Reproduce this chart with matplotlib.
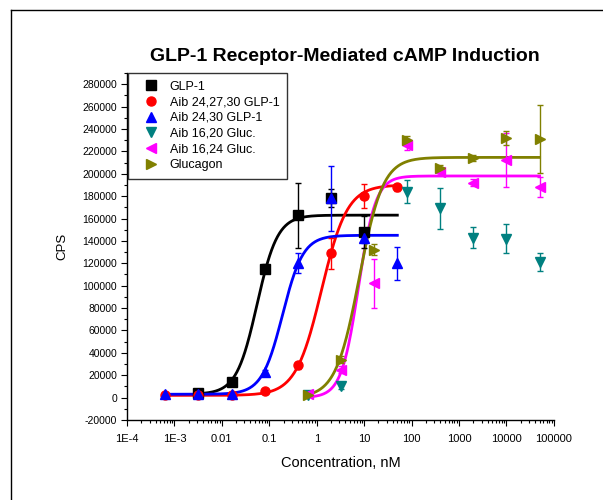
import matplotlib
matplotlib.use("Agg")
import matplotlib.pyplot as plt
import numpy as np
from matplotlib.lines import Line2D
from matplotlib.ticker import FixedLocator, NullFormatter

plt.rcParams['font.family'] = ['Liberation Sans', 'DejaVu Sans']

# concentrations, nM (5-fold dilution series)
conc_low = [0.00064, 0.0032, 0.016, 0.08, 0.4, 2, 10, 50]
conc_high = [0.64, 3.2, 16, 80, 400, 2000, 10000, 50000]

# GLP-1
glp1_x = [0.0032, 0.016, 0.08, 0.4, 2, 10]
glp1_y = [4000, 14000, 115000, 163000, 178000, 148000]
glp1_e = [1500, 2000, 4000, 29000, 8000, 14000]

# Aib 24,27,30 GLP-1
aib3_y = [2000, 2000, 2500, 6000, 29000, 129000, 180000, 188000]
aib3_e = [1000, 1000, 1000, 1500, 3000, 14000, 11000, 3000]

# Aib 24,30 GLP-1
aib2_y = [3000, 3000, 3000, 23000, 120000, 178000, 143000, 120000]
aib2_e = [1000, 1000, 1000, 2000, 9000, 29000, 5000, 15000]

# Aib 16,20 Gluc.
g1620_x = [0.64, 3.2, 80, 400, 2000, 10000, 50000]
g1620_y = [2000, 10000, 184000, 169000, 143000, 142000, 121000]
g1620_e = [1000, 2000, 10000, 18000, 9000, 13000, 8000]

# Aib 16,24 Gluc.
g1624_y = [3000, 25000, 102000, 226000, 202000, 192000, 212000, 188000]
g1624_e = [1000, 3000, 22000, 5000, 3000, 3000, 24000, 9000]

# Glucagon
gcg_y = [2000, 34000, 132000, 230000, 205000, 214000, 232000, 231000]
gcg_e = [1000, 3000, 5000, 4000, 3000, 3000, 6000, 30000]

# sigmoidal fits: bottom, top, EC50, hill, x range
fit_glp1 = (3000, 163000, 0.055, 2.0, 0.0032, 50)
fit_aib3 = (2000, 190000, 1.26, 1.6, 0.00064, 50)
fit_aib2 = (3000, 145000, 0.19, 2.0, 0.00064, 50)
fit_g1624 = (0, 198000, 7.6, 2.4, 0.64, 50000)
fit_gcg = (0, 214600, 7.9, 1.75, 0.64, 50000)

labels = ['GLP-1', 'Aib 24,27,30 GLP-1', 'Aib 24,30 GLP-1',
          'Aib 16,20 Gluc.', 'Aib 16,24 Gluc.', 'Glucagon']
colors = ['black', '#ff0000', '#0000ff', '#008080', '#ff00ff', '#808000']
markers = ['s', 'o', '^', 'v', '<', '>']

fig = plt.figure(figsize=(6.03, 5.0), dpi=100)
ax = fig.add_axes([0.2106, 0.16, 0.708, 0.694])


def curve(p):
    b, t, ec, h, lo, hi = p
    xs = np.logspace(np.log10(lo), np.log10(hi), 300)
    return xs, b + (t - b) / (1 + (ec / xs) ** h)


series = [
    (glp1_x, glp1_y, glp1_e, fit_glp1),
    (conc_low, aib3_y, aib3_e, fit_aib3),
    (conc_low, aib2_y, aib2_e, fit_aib2),
    (g1620_x, g1620_y, g1620_e, None),
    (conc_high, g1624_y, g1624_e, fit_g1624),
    (conc_high, gcg_y, gcg_e, fit_gcg),
]

for (x, y, e, fit), c, m in zip(series, colors, markers):
    if fit is not None:
        cx, cy = curve(fit)
        ax.plot(cx, cy, color=c, lw=2.0, zorder=2)
    ax.errorbar(x, y, yerr=e, fmt=m, color=c, ms=6.5, elinewidth=1.0,
                capsize=2.5, capthick=1.0, zorder=3)

ax.set_xscale('log')
ax.set_xlim(1e-4, 1e5)
ax.set_ylim(-20000, 290000)

xt = [1e-4, 1e-3, 1e-2, 1e-1, 1, 10, 100, 1000, 10000, 100000]
xtl = ['1E-4', '1E-3', '0.01', '0.1', '1', '10', '100', '1000', '10000', '100000']
ax.set_xticks(xt)
ax.set_xticklabels(xtl, fontsize=8)
ax.xaxis.set_minor_locator(FixedLocator(
    [d * k for d in xt[:-1] for k in range(2, 10)]))
ax.xaxis.set_minor_formatter(NullFormatter())

yt = list(range(-20000, 280001, 20000))
ax.set_yticks(yt)
ax.set_yticklabels([str(v) for v in yt], fontsize=7.5)
ax.yaxis.set_minor_locator(FixedLocator(list(range(-10000, 290001, 20000))))

ax.tick_params(which='major', direction='out', length=4, width=0.8, pad=3)
ax.tick_params(which='minor', direction='out', length=2.5, width=0.8)
ax.tick_params(axis='x', which='major', pad=6)

for s in ['top', 'right']:
    ax.spines[s].set_visible(False)
for s in ['left', 'bottom']:
    ax.spines[s].set_linewidth(1.0)

ax.set_xlabel('Concentration, nM', fontsize=10.5, labelpad=9)
ax.set_ylabel('CPS', fontsize=9.5, labelpad=10)

fig.text(0.572, 0.878, 'GLP-1 Receptor-Mediated cAMP Induction',
         ha='center', va='baseline', fontsize=14, fontweight='bold')

handles = [Line2D([], [], ls='none', marker=m, color=c, ms=6.5)
           for m, c in zip(markers, colors)]
leg = ax.legend(handles, labels, loc='upper left', bbox_to_anchor=(0.003, 1.0),
                borderaxespad=0, fontsize=9, frameon=True, fancybox=False,
                edgecolor='black', labelspacing=0.3, handletextpad=0.3,
                borderpad=0.6, handlelength=2.4)
leg.get_frame().set_linewidth(1.0)

# outer frame
fig.add_artist(Line2D([0.018, 0.018], [0.0, 0.98], color='black', lw=1.0,
                      transform=fig.transFigure))
fig.add_artist(Line2D([0.018, 1.0], [0.98, 0.98], color='black', lw=1.0,
                      transform=fig.transFigure))

fig.savefig('out.png', dpi=100)
